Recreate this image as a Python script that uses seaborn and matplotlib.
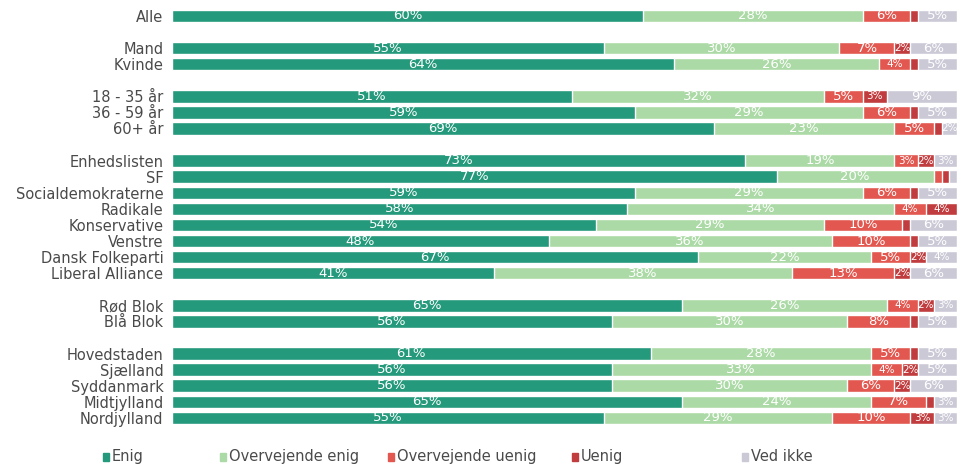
import numpy as np
import pandas as pd
import matplotlib
matplotlib.use('Agg')
import matplotlib.pyplot as plt
from matplotlib.patches import Rectangle
import seaborn as sns

# rows (blank names are spacer rows between the groups)
order = ['Alle', ' ',
         'Mand', 'Kvinde', '  ',
         '18 - 35 år', '36 - 59 år', '60+ år', '   ',
         'Enhedslisten', 'SF', 'Socialdemokraterne', 'Radikale', 'Konservative',
         'Venstre', 'Dansk Folkeparti', 'Liberal Alliance', '    ',
         'Rød Blok', 'Blå Blok', '     ',
         'Hovedstaden', 'Sjælland', 'Syddanmark', 'Midtjylland', 'Nordjylland']

groups = ['Alle', 'Mand', 'Kvinde', '18 - 35 år', '36 - 59 år', '60+ år',
          'Enhedslisten', 'SF', 'Socialdemokraterne', 'Radikale', 'Konservative',
          'Venstre', 'Dansk Folkeparti', 'Liberal Alliance',
          'Rød Blok', 'Blå Blok',
          'Hovedstaden', 'Sjælland', 'Syddanmark', 'Midtjylland', 'Nordjylland']

enig        = [60, 55, 64, 51, 59, 69, 73, 77, 59, 58, 54, 48, 67, 41, 65, 56, 61, 56, 56, 65, 55]
overv_enig  = [28, 30, 26, 32, 29, 23, 19, 20, 29, 34, 29, 36, 22, 38, 26, 30, 28, 33, 30, 24, 29]
overv_uenig = [6, 7, 4, 5, 6, 5, 3, 1, 6, 4, 10, 10, 5, 13, 4, 8, 5, 4, 6, 7, 10]
uenig       = [1, 2, 1, 3, 1, 1, 2, 1, 1, 4, 1, 1, 2, 2, 2, 1, 1, 2, 2, 1, 3]
ved_ikke    = [5, 6, 5, 9, 5, 2, 3, 1, 5, 0, 6, 5, 4, 6, 3, 5, 5, 5, 6, 3, 3]

answers = ['Enig', 'Overvejende enig', 'Overvejende uenig', 'Uenig', 'Ved ikke']
colors = ['#25997b', '#acdaa6', '#e2574f', '#c13c3e', '#cbc9d6']

df = pd.DataFrame({'gruppe': groups, 'Enig': enig, 'Overvejende enig': overv_enig,
                   'Overvejende uenig': overv_uenig, 'Uenig': uenig, 'Ved ikke': ved_ikke})
cum = df[answers].cumsum(axis=1)
cum['gruppe'] = df['gruppe']

sns.set_style('white')
plt.rcParams['font.family'] = ['DejaVu Sans']

fig = plt.figure(figsize=(9.65, 4.66), dpi=100)
ax = fig.add_axes([0.178, 0.086, 0.814, 0.897])

# stacked bars: draw the cumulative totals from the outermost layer inwards
for ans, col in reversed(list(zip(answers, colors))):
    sns.barplot(data=cum, x=ans, y='gruppe', order=order, color=col,
                orient='h', width=0.78, saturation=1, ax=ax)

# value labels in the middle of each segment
pos = {g: i for i, g in enumerate(order)}
for _, row in df.iterrows():
    left = 0
    for ans in answers:
        v = row[ans]
        if v >= 2:
            ax.text(left + v / 2, pos[row['gruppe']], f'{v}%', ha='center', va='center',
                    color='white', fontsize=9.5 if v >= 5 else 7.5)
        left += v

ax.set_xlim(0, 100)
ax.set_ylim(len(order) - 0.5, -0.5)
ax.set_xlabel('')
ax.set_ylabel('')
ax.set_xticks([])
ax.tick_params(axis='y', length=0, pad=6, labelsize=10.5, labelcolor='#4a4a4a')
sns.despine(ax=ax, left=True, bottom=True)

# legend along the bottom: small square + label, on one baseline
leg_x = [103, 220, 388, 572, 742]
y_base = 1 - 461 / 466
for ans, col, x in zip(answers, colors, leg_x):
    fig.patches.append(Rectangle((x / 965, y_base), 6 / 965, 8 / 466, color=col,
                                 transform=fig.transFigure, figure=fig))
    fig.text((x + 9) / 965, y_base, ans, fontsize=10.5, color='#4a4a4a',
             ha='left', va='baseline')

fig.savefig('out.png', dpi=100)
